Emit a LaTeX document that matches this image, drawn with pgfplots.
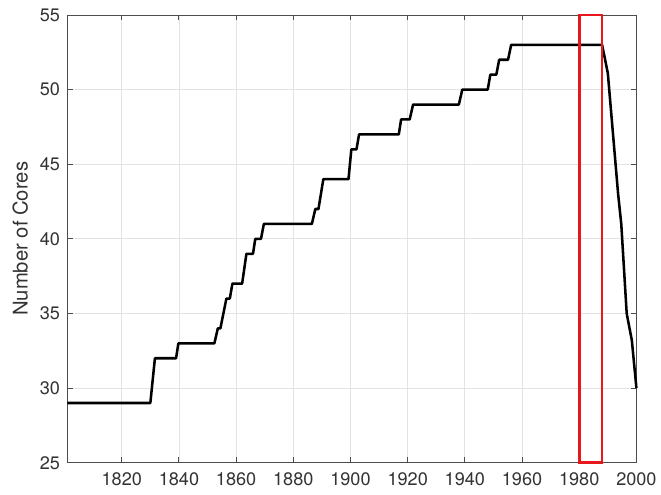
\documentclass[border=0pt]{standalone}
\usepackage{pgfplots}
\pgfplotsset{compat=1.18}
\usepackage{fontspec}
\setmainfont{TeX Gyre Heros}
\definecolor{axgray}{HTML}{4D4D4D}
\definecolor{gridgray}{HTML}{E3E3E3}
\definecolor{txtgray}{HTML}{333333}
\definecolor{boxred}{HTML}{E8171B}
\begin{document}
\begin{tikzpicture}
\begin{axis}[
  scale only axis,
  width=427pt, height=336pt,
  xmin=1801, xmax=2000,
  ymin=25, ymax=55,
  xtick={1820,1840,...,2000},
  ytick={25,30,...,55},
  grid=major,
  major grid style={gridgray, line width=0.6pt},
  axis line style={axgray, line width=0.7pt},
  tick style={axgray, line width=0.7pt},
  tick align=inside,
  major tick length=4pt,
  xtick pos=both, ytick pos=both,
  xticklabel pos=lower, yticklabel pos=left,
  /pgf/number format/assume math mode=true,
  /pgf/number format/1000 sep={},
  tick label style={font=\fontsize{13.6}{15}\selectfont, text=txtgray},
  xticklabel shift=4pt,
  yticklabel shift=2pt,
  ylabel={Number of Cores},
  ylabel style={font=\fontsize{15.2}{17}\selectfont, text=txtgray},
  ylabel shift=2pt,
  clip=false,
]
\addplot[black, line width=1.9pt, line join=round] coordinates {
(1801,29) (1830,29) (1831.6,32) (1839,32) (1839.8,33)
(1852.4,33) (1853.6,34) (1854.5,34) (1856.6,36) (1857.8,36)
(1858.7,37) (1862.1,37) (1863.6,39) (1865.9,39) (1866.7,40)
(1868.7,40) (1869.7,41) (1886.5,41) (1887.7,42) (1888.8,42)
(1890.5,44) (1899.3,44) (1900.3,46) (1902.1,46) (1903.0,47)
(1916.9,47) (1917.7,48) (1920.7,48) (1921.9,49) (1937.9,49)
(1939.1,50) (1948.0,50) (1948.9,51) (1951.0,51) (1952.0,52)
(1955.1,52) (1956.2,53) (1988,53) (1990,51.1) (1993.6,43)
(1994.7,41) (1996.6,35) (1998.4,33.2) (2000,30)
};
\addplot[boxred, line width=1.9pt] coordinates {
(1980,25) (1988,25) (1988,55) (1980,55) (1980,25)
} -- cycle;
\end{axis}
\path ([xshift=-50.6pt,yshift=-24pt]current axis.south west) rectangle ([xshift=18pt,yshift=11.25pt]current axis.north east);
\end{tikzpicture}
\end{document}
